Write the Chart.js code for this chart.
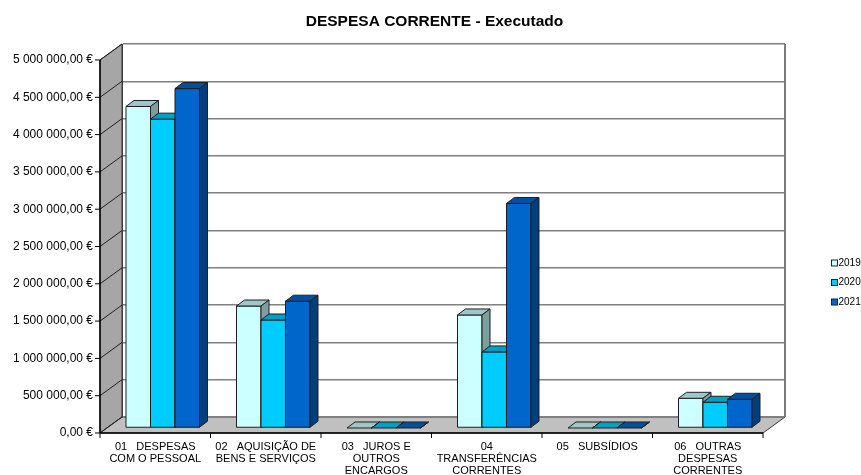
<!DOCTYPE html>
<html>
<head>
<meta charset="utf-8">
<title>DESPESA CORRENTE - Executado</title>
<script src="https://cdn.jsdelivr.net/npm/chart.js@4.4.1/dist/chart.umd.min.js"></script>
<style>
  html, body { margin: 0; padding: 0; background: #fff; }
  canvas { display: block; }
</style>
</head>
<body>
<canvas id="despesaChart" width="861" height="475"></canvas>
<script>
// Categorias (rótulos em várias linhas)
const categories = [
  ["01   DESPESAS", "COM O PESSOAL"],
  ["02   AQUISIÇÃO DE", "BENS E SERVIÇOS"],
  ["03   JUROS E", "OUTROS", "ENCARGOS"],
  ["04", "TRANSFERÊNCIAS", "CORRENTES"],
  ["05   SUBSÍDIOS"],
  ["06   OUTRAS", "DESPESAS", "CORRENTES"]
];
const years = ["2019", "2020", "2021"];

// Valores executados (EUR)
const values2019 = [4310000, 1635000, 0, 1515000, 0, 398000];
const values2020 = [4140000, 1448000, 0, 1020000, 0, 345000];
const values2021 = [4550000, 1700000, 0, 3010000, 0, 385000];

const yMax = 5000000;
const yStep = 500000;

const seriesColors = ["#ccffff", "#00ccff", "#0066cc"];

// profundidade 3D: parede do fundo -> eixo da frente
const DX = 22, DY = 16;
// posição das colunas dentro da profundidade e espessura
const BAR_SHIFT_X = -14.5, BAR_SHIFT_Y = 11;
const BAR_DX = 8, BAR_DY = 6;

const FONT = "'Liberation Sans', Arial, sans-serif";

function euro(v) {
  const parts = v.toFixed(2).split('.');
  return parts[0].replace(/\B(?=(\d{3})+(?!\d))/g, ' ') + ',' + parts[1] + ' €';
}

function shade(hex, f) {
  const n = parseInt(hex.slice(1), 16);
  const r = Math.round(((n >> 16) & 255) * f);
  const g = Math.round(((n >> 8) & 255) * f);
  const b = Math.round((n & 255) * f);
  return 'rgb(' + r + ',' + g + ',' + b + ')';
}

function poly(ctx, pts, fill, stroke) {
  ctx.beginPath();
  ctx.moveTo(pts[0][0], pts[0][1]);
  for (let i = 1; i < pts.length; i++) ctx.lineTo(pts[i][0], pts[i][1]);
  ctx.closePath();
  if (fill) { ctx.fillStyle = fill; ctx.fill(); }
  if (stroke) { ctx.strokeStyle = stroke; ctx.stroke(); }
}

function line(ctx, x1, y1, x2, y2) {
  ctx.beginPath();
  ctx.moveTo(x1, y1);
  ctx.lineTo(x2, y2);
  ctx.stroke();
}

// paredes, chão, eixos da frente e colunas 3D
const excel3d = {
  id: 'excel3d',
  beforeDraw(chart) {
    const { ctx, chartArea: a } = chart;
    const y = chart.scales.y;
    ctx.save();
    ctx.fillStyle = '#fff';
    ctx.fillRect(a.left, a.top, a.right - a.left, a.bottom - a.top);
    ctx.lineWidth = 1;
    // parede lateral
    poly(ctx, [[a.left - DX, a.top + DY], [a.left, a.top], [a.left, a.bottom], [a.left - DX, a.bottom + DY]], '#a6a6a6', '#3a3a3a');
    // chão
    poly(ctx, [[a.left - DX, a.bottom + DY], [a.left, a.bottom], [a.right, a.bottom], [a.right - DX, a.bottom + DY]], '#c0c0c0', '#3a3a3a');
    // linhas da parede lateral
    ctx.strokeStyle = '#202020';
    y.ticks.forEach(t => {
      const py = y.getPixelForValue(t.value);
      line(ctx, a.left - DX, py + DY, a.left, py);
    });
    ctx.restore();
  },
  beforeDatasetsDraw(chart) {
    const { ctx, chartArea: a } = chart;
    const y = chart.scales.y;
    const n = chart.data.labels.length;
    const cw = (a.right - a.left) / n;
    ctx.save();
    // aresta direita da parede do fundo
    ctx.strokeStyle = '#7a7a7a';
    ctx.lineWidth = 2;
    line(ctx, a.right, a.top, a.right, a.bottom);
    // eixo vertical da frente
    ctx.strokeStyle = '#000';
    ctx.lineWidth = 1.5;
    line(ctx, a.left - DX, a.top + DY, a.left - DX, a.bottom + DY);
    ctx.lineWidth = 1;
    y.ticks.forEach(t => {
      const py = y.getPixelForValue(t.value) + DY;
      line(ctx, a.left - DX - 5, py, a.left - DX, py);
    });
    // eixo horizontal da frente
    ctx.lineWidth = 1.5;
    line(ctx, a.left - DX, a.bottom + DY, a.right - DX, a.bottom + DY);
    ctx.lineWidth = 1;
    for (let k = 0; k <= n; k++) {
      const px = a.left + k * cw - DX;
      line(ctx, px, a.bottom + DY, px, a.bottom + DY + 5);
    }
    ctx.restore();
    ctx.save();
    ctx.translate(BAR_SHIFT_X, BAR_SHIFT_Y);
  },
  afterDatasetsDraw(chart) {
    const { ctx } = chart;
    const n = chart.data.labels.length;
    ctx.lineWidth = 1;
    for (let i = 0; i < n; i++) {
      chart.data.datasets.forEach((ds, d) => {
        const el = chart.getDatasetMeta(d).data[i];
        const { x, y, base, width } = el.getProps(['x', 'y', 'base', 'width'], true);
        const l = x - width / 2, r = x + width / 2;
        const col = ds.backgroundColor;
        if (base - y > 0.5) {
          poly(ctx, [[l, y], [r, y], [r, base], [l, base]], col, '#1e1e1e');
        }
        poly(ctx, [[l, y], [l + BAR_DX, y - BAR_DY], [r + BAR_DX, y - BAR_DY], [r, y]], shade(col, 0.78), '#1e1e1e');
        poly(ctx, [[r, y], [r + BAR_DX, y - BAR_DY], [r + BAR_DX, base - BAR_DY], [r, base]], shade(col, 0.62), '#1e1e1e');
      });
    }
    ctx.restore();
  },
  afterDraw(chart) {
    // legenda à direita
    const { ctx } = chart;
    ctx.save();
    ctx.font = '10px ' + FONT;
    ctx.textBaseline = 'middle';
    ctx.textAlign = 'left';
    chart.data.datasets.forEach((ds, d) => {
      const ly = 263 + d * 19.5;
      ctx.fillStyle = ds.backgroundColor;
      ctx.fillRect(831.5, ly - 3, 6, 6);
      ctx.strokeStyle = '#222';
      ctx.lineWidth = 1;
      ctx.strokeRect(831.5, ly - 3, 6, 6);
      ctx.fillStyle = '#000';
      ctx.fillText(ds.label, 838.5, ly);
    });
    ctx.restore();
  }
};

const ctx = document.getElementById('despesaChart').getContext('2d');
new Chart(ctx, {
  type: 'bar',
  data: {
    labels: categories,
    datasets: [
      { label: years[0], data: values2019, backgroundColor: seriesColors[0] },
      { label: years[1], data: values2020, backgroundColor: seriesColors[1] },
      { label: years[2], data: values2021, backgroundColor: seriesColors[2] }
    ]
  },
  options: {
    responsive: false,
    animation: false,
    devicePixelRatio: 1,
    categoryPercentage: 0.665,
    barPercentage: 1,
    layout: { padding: { left: 8, right: 0, top: 0, bottom: 0 } },
    plugins: {
      legend: { display: false },
      tooltip: { enabled: false },
      title: {
        display: true,
        text: 'DESPESA CORRENTE - Executado',
        color: '#000',
        font: { family: FONT, size: 15.5, weight: 'bold' },
        padding: { top: 12, bottom: 13.4 }
      }
    },
    scales: {
      x: {
        grid: { display: false, drawTicks: false },
        border: { display: false },
        ticks: {
          color: '#000',
          font: { family: FONT, size: 11, lineHeight: 1.1 },
          padding: 24,
          labelOffset: -DX,
          maxRotation: 0,
          autoSkip: false
        },
        afterFit(scale) { scale.height = 58; }
      },
      y: {
        min: 0,
        max: yMax,
        grid: { color: '#808080', lineWidth: 1.5, drawTicks: false },
        border: { display: true, color: '#3a3a3a', width: 1 },
        ticks: {
          stepSize: yStep,
          color: '#000',
          font: { family: FONT, size: 12 },
          padding: 29,
          labelOffset: DY,
          callback: v => euro(v)
        },
        afterFit(scale) { scale.width = 114; }
      },
      // espaço à direita reservado para a legenda
      yLegend: {
        position: 'right',
        display: true,
        grid: { display: false, drawTicks: false },
        border: { display: false },
        ticks: { display: false },
        afterFit(scale) { scale.width = 76; }
      }
    }
  },
  plugins: [excel3d]
});
</script>
</body>
</html>
